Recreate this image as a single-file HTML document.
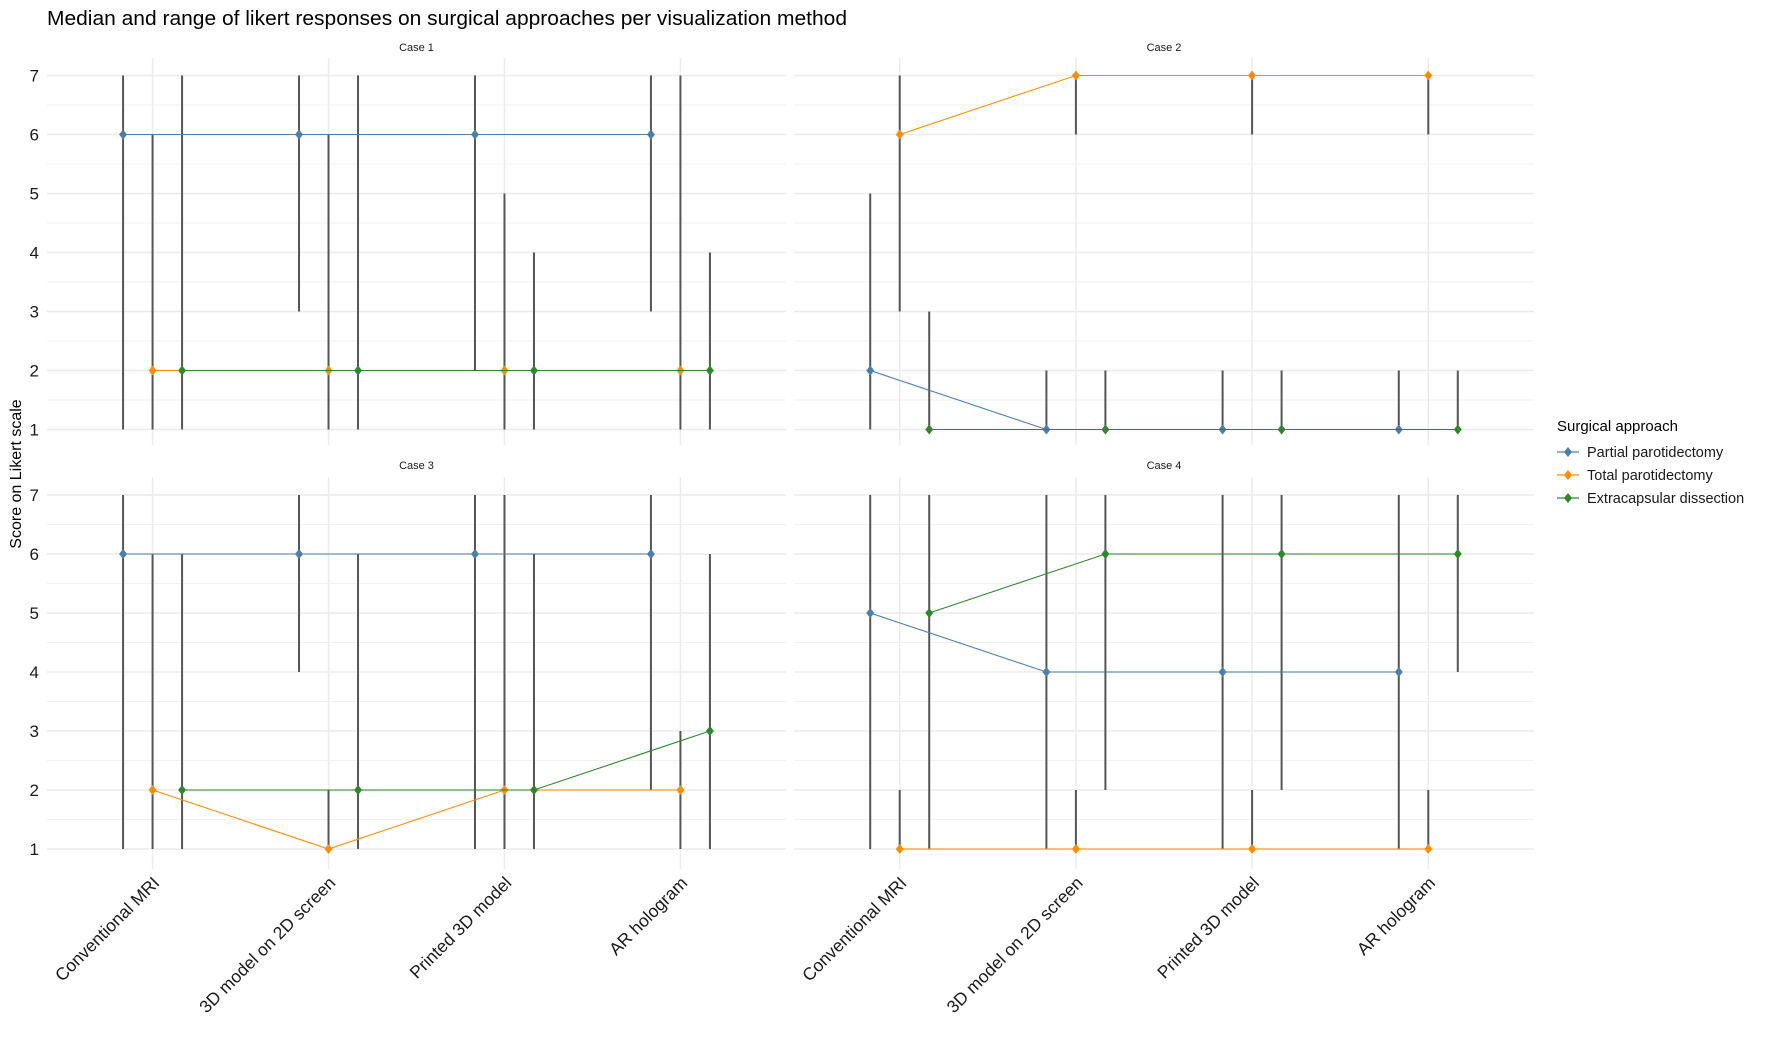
<!DOCTYPE html>
<html><head><meta charset="utf-8"><style>
html,body{margin:0;padding:0;background:#fff}
svg{display:block;font-family:"Liberation Sans",Arial,sans-serif}
</style></head><body>
<svg id="chart" width="1772" height="1057" viewBox="0 0 1772 1057" xmlns="http://www.w3.org/2000/svg">
<text x="47" y="25" font-size="20" textLength="800" lengthAdjust="spacingAndGlyphs" fill="#000">Median and range of likert responses on surgical approaches per visualization method</text>
<text transform="translate(21,474) rotate(-90)" text-anchor="middle" font-size="16" fill="#000">Score on Likert scale</text>
<g id="panels"></g>
<g>
<text x="1557" y="431" font-size="15" fill="#000">Surgical approach</text>
<g id="legend-entries"></g>
</g>
</svg>
<script>
const categories = ["Conventional MRI","3D model on 2D screen","Printed 3D model","AR hologram"];
const seriesNames = ["Partial parotidectomy","Total parotidectomy","Extracapsular dissection"];
const caseNames = ["Case 1","Case 2","Case 3","Case 4"];
// medians [series][category]
const case1Median = [[6,6,6,6],[2,2,2,2],[2,2,2,2]];
const case1Min = [[1,3,2,3],[1,1,1,1],[1,1,1,1]];
const case1Max = [[7,7,7,7],[6,6,5,7],[7,7,4,4]];
const case2Median = [[2,1,1,1],[6,7,7,7],[1,1,1,1]];
const case2Min = [[1,1,1,1],[3,6,6,6],[1,1,1,1]];
const case2Max = [[5,2,2,2],[7,7,7,7],[3,2,2,2]];
const case3Median = [[6,6,6,6],[2,1,2,2],[2,2,2,3]];
const case3Min = [[1,4,1,2],[1,1,1,1],[1,1,1,1]];
const case3Max = [[7,7,7,7],[6,2,7,3],[6,6,6,6]];
const case4Median = [[5,4,4,4],[1,1,1,1],[5,6,6,6]];
const case4Min = [[1,1,1,1],[1,1,1,1],[1,2,2,4]];
const case4Max = [[7,7,7,7],[2,2,2,2],[7,7,7,7]];
const yTicks = [1,2,3,4,5,6,7];

const medians=[case1Median,case2Median,case3Median,case4Median];
const mins=[case1Min,case2Min,case3Min,case4Min];
const maxs=[case1Max,case2Max,case3Max,case4Max];
const colors=["#4A7FAF","#FF8C00","#2A8A2A"];
const NS="http://www.w3.org/2000/svg";
const panelsG=document.getElementById('panels');
function mk(tag,attrs,parent){const e=document.createElementNS(NS,tag);for(const k in attrs)e.setAttribute(k,attrs[k]);parent.appendChild(e);return e;}
const layout=[{x0:47,x1:786,top:58,bot:445,y7:75.5,y1:429.5,strip:51},
              {x0:794,x1:1534,top:58,bot:445,y7:75.5,y1:429.5,strip:51},
              {x0:47,x1:786,top:477,bot:869,y7:495,y1:849,strip:469},
              {x0:794,x1:1534,top:477,bot:869,y7:495,y1:849,strip:469}];
const dodge=29.5;
function diamond(cx,cy,col,parent){
  return mk('polygon',{points:`${cx},${cy-5} ${cx+4},${cy} ${cx},${cy+5} ${cx-4},${cy}`,fill:col},parent);
}
caseNames.forEach((cn,ci)=>{
  const L=layout[ci];
  const n=categories.length;
  const step=(L.x1-L.x0)/(n-1+1.2);
  const xScale=i=>L.x0+step*(0.6+i);
  const yScale=v=>L.y1+(v-1)*(L.y7-L.y1)/6;
  const g=mk('g',{},panelsG);
  
  
  const st=mk('text',{x:(L.x0+L.x1)/2,y:L.strip,'text-anchor':'middle','font-size':'11',fill:'#1a1a1a'},g);
  st.textContent=cn;
  
  
  for(let v=1.5;v<7;v+=1){mk('line',{x1:L.x0,x2:L.x1,y1:yScale(v),y2:yScale(v),stroke:'#f0f0f0','stroke-width':1},g);}
  yTicks.forEach(v=>{mk('line',{x1:L.x0,x2:L.x1,y1:yScale(v),y2:yScale(v),stroke:'#ebebeb','stroke-width':1.4},g);});
  categories.forEach((c,i)=>{mk('line',{x1:xScale(i),x2:xScale(i),y1:L.top,y2:L.bot,stroke:'#ebebeb','stroke-width':1.4},g);});
  if(ci%2===0){
    yTicks.forEach(v=>{const t=mk('text',{x:39,y:yScale(v)+6,'text-anchor':'end','font-size':'17',fill:'#1a1a1a'},g);t.textContent=v;
      
      });
  }
  if(ci>=2){
    categories.forEach((c,i)=>{const t=mk('text',{transform:`translate(${xScale(i)+8},${L.bot+15}) rotate(-45)`,'text-anchor':'end','font-size':'17.5',fill:'#1a1a1a'},g);t.textContent=c;
      
      });
  }
  seriesNames.forEach((s,si)=>{
    categories.forEach((c,i)=>{
      const x=xScale(i)+(si-1)*dodge;
      const l=mk('line',{x1:x,x2:x,y1:yScale(mins[ci][si][i]),y2:yScale(maxs[ci][si][i]),stroke:'#555','stroke-width':2},g);
      
      
    });
  });
  seriesNames.forEach((s,si)=>{
    const pts=categories.map((c,i)=>`${xScale(i)+(si-1)*dodge},${yScale(medians[ci][si][i])}`).join(' ');
    const pl=mk('polyline',{points:pts,fill:'none',stroke:colors[si],'stroke-width':1.1},g);
    
    
    categories.forEach((c,i)=>{
      const d=diamond(xScale(i)+(si-1)*dodge,yScale(medians[ci][si][i]),colors[si],g);
      
      
    });
  });
});
const lg=document.getElementById('legend-entries');
seriesNames.forEach((s,si)=>{
  const y=[452,475,498][si];
  const e=mk('g',{},lg);
  
  
  mk('line',{x1:1557,x2:1579,y1:y,y2:y,stroke:colors[si],'stroke-width':1.2},e);
  diamond(1568,y,colors[si],e);
  const t=mk('text',{x:1587,y:y+5,'font-size':'14.5',fill:'#1a1a1a'},e);
  t.textContent=s;
});
</script>
</body></html>
